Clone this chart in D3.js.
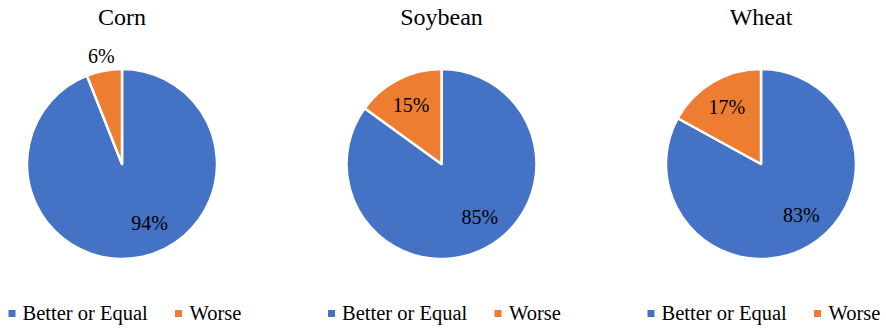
<!DOCTYPE html>
<html>
<head>
<meta charset="utf-8">
<script src="https://cdn.jsdelivr.net/npm/d3@7"></script>
<style>
  html, body { margin: 0; padding: 0; background: #fff; }
  svg { display: block; }
  text { font-family: "Liberation Serif", "Times New Roman", "DejaVu Serif", serif; fill: #000; }
</style>
</head>
<body>
<svg id="chart" width="886" height="328"></svg>
<script>
// Share of fields rated against last season, per crop
const crops = ["Corn", "Soybean", "Wheat"];
const categories = ["Better or Equal", "Worse"];
const betterOrEqual = [94, 85, 83];
const worse = [6, 15, 17];

const colors = ["#4472C4", "#ED7D31"];

const width = 886, height = 328;
const panelW = 319.5;
const firstCx = 122;
const cy = 164;
const radius = 95;

const svg = d3.select("#chart");

const color = d3.scaleOrdinal().domain(categories).range(colors);

const pie = d3.pie()
  .sort(null)
  .value(d => d.value);

const arc = d3.arc().innerRadius(0).outerRadius(radius);

crops.forEach((crop, i) => {
  const cx = firstCx + i * panelW;
  const rows = categories.map((c, k) => ({
    category: c,
    value: k === 0 ? betterOrEqual[i] : worse[i]
  }));
  const g = svg.append("g").attr("transform", `translate(${cx},${cy})`);

  // title
  svg.append("text")
    .attr("x", cx)
    .attr("y", 25)
    .attr("text-anchor", "middle")
    .style("font-size", "24px")
    .text(crop);

  const arcs = pie(rows);

  g.selectAll("path.slice")
    .data(arcs)
    .join("path")
    .attr("class", "slice")
    .attr("d", arc)
    .attr("fill", d => color(d.data.category))
    .attr("stroke", "#fff")
    .attr("stroke-width", 2.5)
    .attr("stroke-linejoin", "round");

  // value labels: small slices that are too thin sit outside the rim,
  // the large slice label is eased back toward the top of the pie
  g.selectAll("text.val")
    .data(arcs)
    .join("text")
    .attr("class", "val")
    .attr("text-anchor", "middle")
    .attr("dominant-baseline", "central")
    .style("font-size", "20px")
    .attr("transform", d => {
      const mid = (d.startAngle + d.endAngle) / 2;
      const share = d.data.value;
      let a = mid, r = 67;
      if (share < 10) r = radius + 15;
      if (share > 50) { a = mid - (share - 70) * 0.6 * Math.PI / 180; r = 65; }
      return `translate(${Math.sin(a) * r},${-Math.cos(a) * r + 0.5})`;
    })
    .text(d => d.data.value + "%");

  // legend
  const lx = cx - 113.5;
  const items = [
    { category: categories[0], sx: 0, tx: 14 },
    { category: categories[1], sx: 166.5, tx: 181 }
  ];
  const lg = svg.append("g").attr("transform", `translate(${lx},0)`);
  items.forEach(it => {
    lg.append("rect")
      .attr("x", it.sx)
      .attr("y", 310)
      .attr("width", 7)
      .attr("height", 7)
      .attr("fill", color(it.category));
    lg.append("text")
      .attr("x", it.tx)
      .attr("y", 320)
      .style("font-size", "20.5px")
      .text(it.category);
  });
});
</script>
</body>
</html>
